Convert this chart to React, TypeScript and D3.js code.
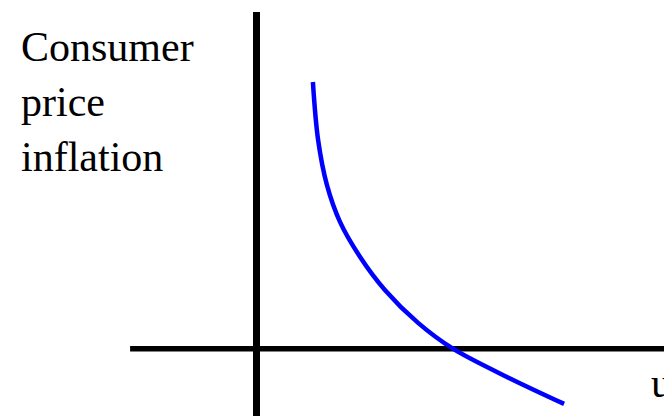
import React from "react";
import * as d3 from "d3";

const W = 664;
const H = 416;

// Phillips curve: unemployment (x) vs consumer price inflation (y)
const unemployment = [1.41, 1.54, 1.76, 2.09, 2.59, 3.21, 4.04, 4.91, 6.26, 7.69];
const inflation = [8.89, 6.96, 5.46, 4.22, 3.06, 1.96, 0.86, 0.0, -0.94, -1.84];

const yLabelLines = ["Consumer", "price", "inflation"];
const xLabel = "unemployment";

const xAxisExtent = [-3.16, 10.5];
const yAxisExtent = [-2.4, 11.22];

export default function App() {
  const x = d3.scaleLinear().domain([0, 10]).range([256.5, 656.5]);
  const y = d3.scaleLinear().domain([0, 10]).range([348.7, 48.7]);

  const pts: [number, number][] = unemployment.map((u, i) => [u, inflation[i]]);
  const line = d3
    .line<[number, number]>()
    .x((d) => x(d[0]))
    .y((d) => y(d[1]))
    .curve(d3.curveCatmullRom.alpha(0.5));

  return (
    <svg
      width={W}
      height={H}
      viewBox={`0 0 ${W} ${H}`}
      style={{ position: "absolute", left: 0, top: 0, overflow: "hidden", background: "#fff" }}
      fontFamily="'Liberation Serif', 'Times New Roman', serif"
    >
      <rect x={0} y={0} width={W} height={H} fill="#fff" />
      {/* vertical axis */}
      <line
        x1={x(0)}
        x2={x(0)}
        y1={y(yAxisExtent[1])}
        y2={y(yAxisExtent[0])}
        stroke="#000"
        strokeWidth={7}
      />
      {/* horizontal axis */}
      <line
        x1={x(xAxisExtent[0])}
        x2={x(xAxisExtent[1])}
        y1={y(0)}
        y2={y(0)}
        stroke="#000"
        strokeWidth={5.5}
      />
      <path
        d={line(pts) || ""}
        fill="none"
        stroke="#0000ff"
        strokeWidth={4.5}
        strokeLinejoin="round"
      />
      {yLabelLines.map((t, i) => (
        <text key={t} x={21} y={61 + i * 55} fontSize={42} fill="#000">
          {t}
        </text>
      ))}
      <text x={651} y={397} fontSize={42} fill="#000">
        {xLabel}
      </text>
    </svg>
  );
}
